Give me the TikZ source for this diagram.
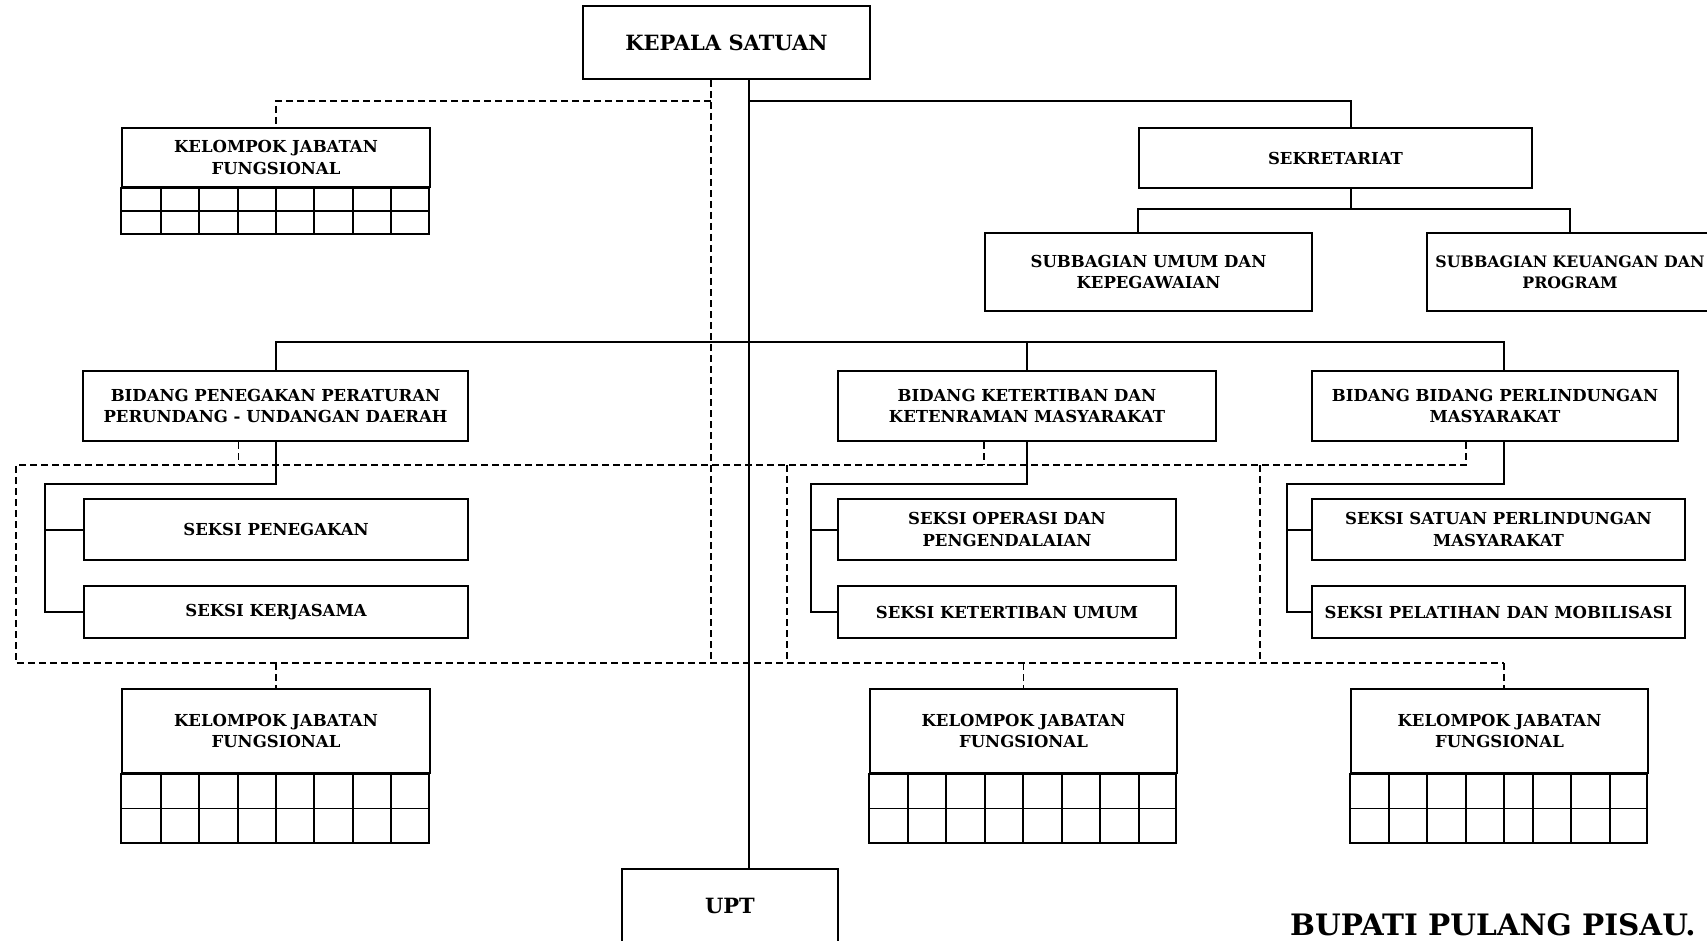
\documentclass[tikz,border=0pt]{standalone}
\usepackage{fontspec}
\setmainfont{DejaVu Serif}
\usepackage{tikz}
\newcommand{\unitfont}{\fontsize{16.5}{21.5}\selectfont\bfseries}
\newcommand{\headfont}{\fontsize{21}{25}\selectfont\bfseries}
\tikzstyle{unit} = [draw=black, line width=2pt, rectangle, align=center,
    inner sep=0pt, font=\unitfont]
\tikzstyle{headunit} = [unit, font=\headfont]
\tikzstyle{link} = [draw=black, line width=2pt]
\tikzstyle{dashlink} = [draw=black, line width=1.5pt, dash pattern=on 7pt off 4pt]
\tikzstyle{cell} = [draw=black, line width=1.8pt]
% grid under a kelompok jabatan box: node, width, row height, column list
\newcommand{\jabgrid}[4]{%
    \draw[cell] (#1.south west) rectangle ++(#2,2*#3);
    \draw[cell] (#1.south west) ++(0,#3) -- ++(#2,0);
    \foreach \x in {#4} \draw[cell] (\x,0 |- #1.south) -- ++(0,2*#3);}

\begin{document}
\begin{tikzpicture}[x=1pt, y=-1pt]
\useasboundingbox (0,0) rectangle (1707,941);
\clip (0,0) rectangle (1707,941);

\node[headunit, minimum width=287pt, minimum height=73pt] (kepala) at (726.5,42.5) {KEPALA SATUAN};
\node[unit, minimum width=393pt, minimum height=60pt] (sek) at (1335.5,158) {SEKRETARIAT};
\node[unit, minimum width=327pt, minimum height=78pt] (subumum) at (1148.5,272) {SUBBAGIAN UMUM DAN\\KEPEGAWAIAN};
\node[unit, minimum width=286pt, minimum height=78pt, font=\fontsize{15.8}{21.5}\selectfont\bfseries] (subkeu) at (1570,272) {SUBBAGIAN KEUANGAN DAN\\PROGRAM};
\node[unit, minimum width=308pt, minimum height=59pt] (kjfA) at (276,157.5) {KELOMPOK JABATAN\\FUNGSIONAL};

\node[unit, minimum width=385pt, minimum height=70pt] (bidA) at (275.5,406) {BIDANG PENEGAKAN PERATURAN\\PERUNDANG - UNDANGAN DAERAH};
\node[unit, minimum width=378pt, minimum height=70pt] (bidB) at (1027,406) {BIDANG KETERTIBAN DAN\\KETENRAMAN MASYARAKAT};
\node[unit, minimum width=366pt, minimum height=70pt] (bidC) at (1495,406) {BIDANG BIDANG PERLINDUNGAN\\MASYARAKAT};

\node[unit, minimum width=384pt, minimum height=61pt] (seksiA1) at (276,529.5) {SEKSI PENEGAKAN};
\node[unit, minimum width=384pt, minimum height=52pt] (seksiA2) at (276,612) {SEKSI KERJASAMA};
\node[unit, minimum width=338pt, minimum height=61pt] (seksiB1) at (1007,529.5) {SEKSI OPERASI DAN\\PENGENDALAIAN};
\node[unit, minimum width=338pt, minimum height=52pt] (seksiB2) at (1007,612) {SEKSI KETERTIBAN UMUM};
\node[unit, minimum width=373pt, minimum height=61pt] (seksiC1) at (1498.5,529.5) {SEKSI SATUAN PERLINDUNGAN\\MASYARAKAT};
\node[unit, minimum width=373pt, minimum height=52pt] (seksiC2) at (1498.5,612) {SEKSI PELATIHAN DAN MOBILISASI};

\node[unit, minimum width=308pt, minimum height=84pt] (kjfB) at (276,731) {KELOMPOK JABATAN\\FUNGSIONAL};
\node[unit, minimum width=307pt, minimum height=84pt] (kjfC) at (1023.5,731) {KELOMPOK JABATAN\\FUNGSIONAL};
\node[unit, minimum width=297pt, minimum height=84pt] (kjfD) at (1499.5,731) {KELOMPOK JABATAN\\FUNGSIONAL};
\node[headunit, minimum width=216pt, minimum height=74pt] (upt) at (730,906) {UPT};
\node[font=\fontsize{29.5}{32}\selectfont\bfseries, anchor=base west, inner sep=0pt] (bupati) at (1290,935) {BUPATI PULANG PISAU.};

\jabgrid{kjfA}{308}{23}{161,199,238,276,314,353,391}
\jabgrid{kjfB}{308}{34.5}{161,199,238,276,314,353,391}
\jabgrid{kjfC}{307}{34.5}{908,946,985,1023,1062,1100,1139}
\jabgrid{kjfD}{297}{34.5}{1389,1427,1466,1504,1533,1571,1610}

\coordinate (trunk) at (749,0);
\coordinate (dtrunk) at (711,0);
\coordinate (topbus) at (0,101);
\coordinate (subbus) at (0,209);
\coordinate (midbus) at (0,342);
\coordinate (frameTL) at (16,465);
\coordinate (frameBL) at (16,663);
\coordinate (divB) at (787,0);
\coordinate (divC) at (1260,0);
\coordinate (kjfDtop) at ([xshift=4.5pt]kjfD.north);

\draw[link] (kepala.south -| trunk) -- (upt.north -| trunk);
\draw[link] (trunk |- topbus) -| ([xshift=15pt]sek.north);
\draw[link] ([xshift=15pt]sek.south) -- ([xshift=15pt]sek.south |- subbus);
\draw[link] (sek.south west |- subumum.north) |- (subkeu.north |- subbus) -- (subkeu.north);
\draw[link] (bidA.north) |- ([xshift=9pt]bidC.north |- midbus) -- ([xshift=9pt]bidC.north);
\draw[link] (bidB.north) -- (bidB.north |- midbus);

\draw[link] (bidA.south) -- ++(0,42) -| ([xshift=-38pt]seksiA2.west) -- (seksiA2.west);
\draw[link] ([xshift=-38pt]seksiA1.west) -- (seksiA1.west);
\draw[link] (bidB.south) -- ++(0,42) -| ([xshift=-26pt]seksiB2.west) -- (seksiB2.west);
\draw[link] ([xshift=-26pt]seksiB1.west) -- (seksiB1.west);
\draw[link] ([xshift=9pt]bidC.south) -- ++(0,42) -| ([xshift=-24pt]seksiC2.west) -- (seksiC2.west);
\draw[link] ([xshift=-24pt]seksiC1.west) -- (seksiC1.west);

\draw[dashlink] (kepala.south -| dtrunk) -- (dtrunk |- frameBL);
\draw[dashlink] (dtrunk |- topbus) -| (kjfA.north);
\draw[dashlink] ([xshift=-29pt]bidC.south) |- (frameTL) -- (frameBL) -- (frameBL -| kjfDtop);
\draw[dashlink] ([xshift=-37pt]bidA.south) -- ([xshift=-37pt]bidA.south |- frameTL);
\draw[dashlink] ([xshift=-43pt]bidB.south) -- ([xshift=-43pt]bidB.south |- frameTL);
\draw[dashlink] (divB |- frameTL) -- (divB |- frameBL);
\draw[dashlink] (divC |- frameTL) -- (divC |- frameBL);
\draw[dashlink] (kjfB.north |- frameBL) -- (kjfB.north);
\draw[dashlink] (kjfC.north |- frameBL) -- (kjfC.north);
\draw[dashlink] (kjfDtop |- frameBL) -- (kjfDtop);
\end{tikzpicture}
\end{document}
